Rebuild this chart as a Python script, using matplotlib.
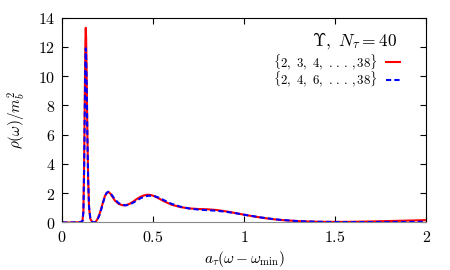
import matplotlib
matplotlib.use('Agg')
import matplotlib.pyplot as plt
from matplotlib.lines import Line2D

plt.rcParams['mathtext.fontset'] = 'cm'
plt.rcParams['font.family'] = ['DejaVu Serif']

# spectral function
omega = [0.0, 0.05, 0.10, 0.112, 0.117, 0.121, 0.125, 0.128, 0.130, 0.132,
         0.135, 0.139, 0.143, 0.148, 0.155, 0.165, 0.175, 0.185, 0.195, 0.205,
         0.215, 0.225, 0.235, 0.245, 0.255, 0.265, 0.275, 0.29, 0.31, 0.33,
         0.35, 0.37, 0.39, 0.41, 0.43, 0.45, 0.47, 0.49, 0.51, 0.53,
         0.56, 0.60, 0.65, 0.70, 0.75, 0.80, 0.85, 0.90, 0.95, 1.0,
         1.05, 1.1, 1.15, 1.2, 1.3, 1.4, 1.5, 1.6, 1.7, 1.8, 1.9, 2.0]

rho_all = [0.0, 0.0, 0.02, 0.1, 0.8, 4.0, 9.0, 12.3, 13.3, 12.6,
           10.0, 6.0, 3.0, 1.0, 0.25, 0.03, 0.0, 0.05, 0.25, 0.55,
           0.95, 1.4, 1.8, 2.02, 2.08, 1.98, 1.78, 1.5, 1.28, 1.18,
           1.18, 1.27, 1.42, 1.6, 1.75, 1.85, 1.9, 1.87, 1.78, 1.65,
           1.45, 1.22, 1.05, 0.96, 0.92, 0.90, 0.85, 0.76, 0.65, 0.53,
           0.42, 0.32, 0.24, 0.17, 0.09, 0.05, 0.04, 0.05, 0.07, 0.10, 0.13, 0.16]

rho_even = [0.0, 0.0, 0.02, 0.1, 0.7, 3.6, 8.0, 11.0, 11.9, 11.4,
            9.3, 5.8, 3.0, 1.1, 0.3, 0.05, 0.0, 0.04, 0.2, 0.5,
            0.9, 1.35, 1.78, 2.03, 2.1, 2.02, 1.85, 1.57, 1.33, 1.2,
            1.17, 1.22, 1.35, 1.5, 1.65, 1.76, 1.82, 1.83, 1.79, 1.7,
            1.52, 1.28, 1.08, 0.95, 0.88, 0.84, 0.80, 0.73, 0.64, 0.53,
            0.43, 0.33, 0.25, 0.18, 0.09, 0.05, 0.03, 0.03, 0.03, 0.04, 0.04, 0.05]

label_all = r'$\{2,\ 3,\ 4,\ .\,.\,.\,,38\}$'
label_even = r'$\{2,\ 4,\ 6,\ .\,.\,.\,,38\}$'
title = r'$\Upsilon,\ N_\tau = 40$'
xticks = [0, 0.5, 1, 1.5, 2]
yticks = [0, 2, 4, 6, 8, 10, 12, 14]

fig = plt.figure(figsize=(4.5, 2.7), dpi=100)
ax = fig.add_axes([0.138, 0.176, 0.809, 0.759])

red = ax.plot(omega, rho_all, color='#ff0000', lw=1.5)[0]
blue = ax.plot(omega, rho_even, color='#0000ff', lw=1.5, dashes=(2.5, 1.5))[0]

ax.set_xlim(0, 2)
ax.set_ylim(0, 14)
ax.set_xticks(xticks)
ax.set_xticklabels([f'${t:g}$' for t in xticks], fontsize=11.5)
ax.set_yticks(yticks)
ax.set_yticklabels([f'${t}$' for t in yticks], fontsize=11.5)
ax.tick_params(direction='in', top=True, right=True, length=4, width=0.8, pad=5)
ax.spines['bottom'].set_color('#888888')

ax.set_xlabel(r'$a_\tau(\omega - \omega_{\rm min})$', fontsize=11, labelpad=2)
ax.set_ylabel(r'$\rho(\omega)/m_b^2$', fontsize=11, labelpad=7)

# gnuplot-style key, placed by hand
ax.text(0.920, 0.882, title, transform=ax.transAxes, ha='right', va='center', fontsize=12.5)
for yk, lab, src in [(0.783, label_all, red), (0.697, label_even, blue)]:
    ax.text(0.866, yk, lab, transform=ax.transAxes, ha='right', va='center', fontsize=9.2)
    key = Line2D([0.890, 0.928], [yk, yk], transform=ax.transAxes,
                 color=src.get_color(), lw=1.5)
    if src is blue:
        key.set_dashes((2.5, 1.5))
    ax.add_line(key)

fig.savefig('out.png', dpi=100)
